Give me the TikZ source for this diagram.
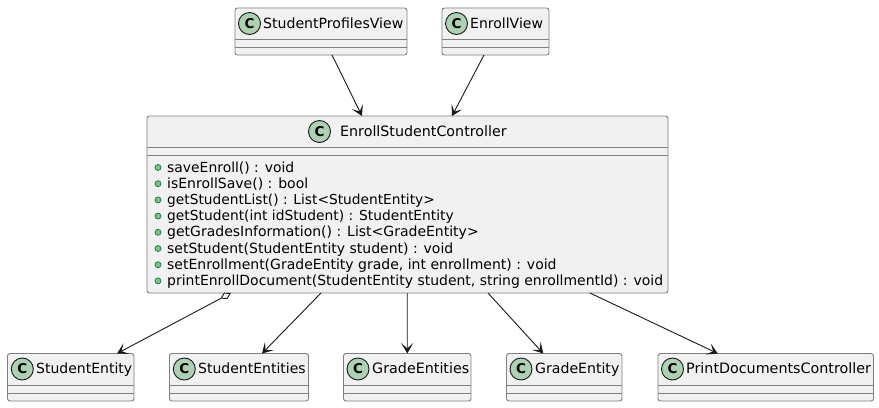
\documentclass[tikz,border=0pt]{standalone}
\usepackage{fontspec}
\setmainfont{DejaVu Sans}
\usetikzlibrary{arrows.meta,calc}
\definecolor{boxfill}{HTML}{F1F1F1}
\definecolor{boxline}{HTML}{7F7F7F}
\definecolor{spot}{HTML}{ADD1B2}
\definecolor{ink}{HTML}{181818}
\definecolor{bulletfill}{HTML}{84BE84}
\definecolor{bulletline}{HTML}{038048}
\tikzset{
  umlbox/.style={draw=boxline,fill=boxfill,rounded corners=2.5bp,line width=0.9bp,inner sep=0pt,outer sep=0pt,rectangle,anchor=north west},
  spotc/.style={circle,draw=ink,fill=spot,line width=0.9bp,minimum size=22bp,inner sep=0pt,font=\fontsize{13.5bp}{14bp}\selectfont\bfseries,text=black},
  title/.style={anchor=base west,inner sep=0pt,text=black},
  member/.style={anchor=base west,inner sep=0pt,text=black},
  bullet/.style={circle,draw=bulletline,fill=bulletfill,line width=0.7bp,minimum size=6bp,inner sep=0pt},
  sep/.style={draw=boxline,line width=0.9bp},
  link/.style={draw=ink,line width=0.9bp,-{Stealth[length=10.5bp,width=12bp,inset=5.5bp]}},
}
% name, left, top, width, height, spot x, text x, label, font size
\newcommand{\umlclass}[9]{%
  \node[umlbox,minimum width=#4bp,minimum height=#5bp] (#1) at (#2,#3) {};
  \node[spotc] (#1c) at (#6,#3+15.5) {C};
  \node[title,font=\fontsize{#9bp}{16bp}\selectfont] (#1t) at (#7,#3+20.3) {#8};
  \draw[sep] ($(#1.north west)+(0,31.5)$) -- ($(#1.north east)+(0,31.5)$);
  \draw[sep] ($(#1.north west)+(0,39.5)$) -- ($(#1.north east)+(0,39.5)$);
}
% id, baseline, text, font size
\newcommand{\umlmember}[4]{%
  \node[bullet] (b#1) at (158,#2-4.5) {};
  \node[member,font=\fontsize{#4bp}{16bp}\selectfont] (m#1) at (167,#2) {#3};
}
\begin{document}
\begin{tikzpicture}[x=1bp,y=-1bp]
\useasboundingbox (0,0) rectangle (879,407);
\umlclass{spv}{235}{8}{172}{47}{249.5}{263}{StudentProfilesView}{14.1}
\umlclass{ev}{442}{8}{107}{47}{456.5}{470}{EnrollView}{14}
\umlclass{ctl}{147}{116}{521}{177}{319.5}{340}{EnrollStudentController}{14.25}
\umlclass{se}{7.5}{353.5}{126.5}{47.5}{22.3}{36}{StudentEntity}{14}
\umlclass{ses}{169.5}{353.5}{139}{47.5}{184.3}{198}{StudentEntities}{14}
\umlclass{ges}{343.5}{353.5}{127.5}{47.5}{358}{372}{GradeEntities}{14.3}
\umlclass{ge}{506.5}{353.5}{115.5}{47.5}{521}{535}{GradeEntity}{14.1}
\umlclass{pdc}{658}{353.5}{215.5}{47.5}{672.5}{686}{PrintDocumentsController}{14.3}
\umlmember{1}{172}{saveEnroll() : void}{13.9}
\umlmember{2}{188.2}{isEnrollSave() : bool}{14}
\umlmember{3}{204.4}{getStudentList() : List<StudentEntity>}{13.75}
\umlmember{4}{220.6}{getStudent(int idStudent) : StudentEntity}{13.8}
\umlmember{5}{236.8}{getGradesInformation() : List<GradeEntity>}{14}
\umlmember{6}{253}{setStudent(StudentEntity student) : void}{14}
\umlmember{7}{269.2}{setEnrollment(GradeEntity grade, int enrollment) : void}{14}
\umlmember{8}{285.4}{printEnrollDocument(StudentEntity student, string enrollmentId) : void}{13.97}
\draw[link] ([xshift=11bp]spv.south) -- ([xshift=-45.5bp]ctl.north);
\draw[link] ([xshift=-11.5bp]ev.south) -- ([xshift=44.5bp]ctl.north);
\draw[link,{Diamond[open,fill=white,length=12bp,width=7bp]}-{Stealth[length=10.5bp,width=12bp,inset=5.5bp]}] ([xshift=-176.5bp]ctl.south) -- ([xshift=46.3bp]se.north);
\draw[link] ([xshift=-86.5bp]ctl.south) -- ([xshift=23bp]ses.north);
\draw[link] ([xshift=-0.25bp]ctl.south) -- (ges.north);
\draw[link] ([xshift=80.5bp]ctl.south) -- ([xshift=-21bp]ge.north);
\draw[link] ([xshift=182.5bp]ctl.south) -- ([xshift=-48bp]pdc.north);
\end{tikzpicture}
\end{document}
